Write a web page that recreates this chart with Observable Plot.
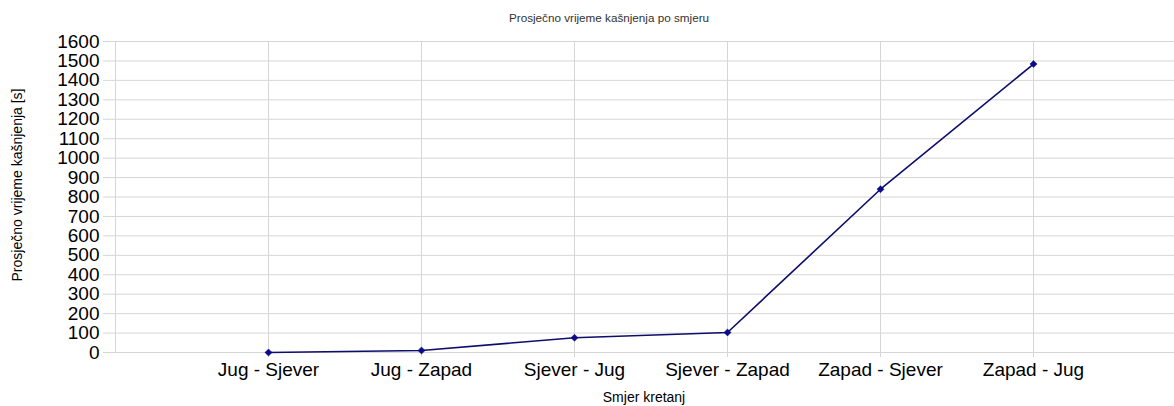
<!DOCTYPE html>
<html>
<head>
<meta charset="utf-8">
<script src="https://cdn.jsdelivr.net/npm/d3@7"></script>
<script src="https://cdn.jsdelivr.net/npm/@observablehq/plot@0.6"></script>
<style>
  html, body { margin: 0; padding: 0; background: #fff; }
  #wrap { position: relative; width: 1174px; height: 406px; overflow: hidden; font-family: "Liberation Sans", Arial, sans-serif; color: #000; }
  #title { position: absolute; left: 0; width: 1218px; top: 11px; text-align: center; font-size: 11.7px; color: #333; }
  #ytitle { position: absolute; left: 17px; top: 185px; transform: translate(-50%, -50%) rotate(-90deg); white-space: nowrap; font-size: 14px; }
  #xtitle { position: absolute; left: 0; width: 1288px; top: 389px; text-align: center; font-size: 14px; }
  #chart { position: absolute; left: 0; top: 0; }
</style>
</head>
<body>
<div id="wrap">
  <div id="chart"></div>
  <div id="title">Prosječno vrijeme kašnjenja po smjeru</div>
  <div id="ytitle">Prosječno vrijeme kašnjenja [s]</div>
  <div id="xtitle">Smjer kretanj</div>
</div>
<script>
const categories = ["Jug - Sjever", "Jug - Zapad", "Sjever - Jug", "Sjever - Zapad", "Zapad - Sjever", "Zapad - Jug"];
const values = [0, 10, 76, 103, 840, 1484];
const yTicks = [0, 100, 200, 300, 400, 500, 600, 700, 800, 900, 1000, 1100, 1200, 1300, 1400, 1500, 1600];

const data = categories.map((c, i) => ({ dir: c, value: values[i] }));
const grid = "#d6d6d6";

const chart = Plot.plot({
  width: 1174,
  height: 406,
  marginLeft: 115,
  marginRight: 0,
  marginTop: 41,
  marginBottom: 54,
  style: { fontFamily: "Liberation Sans, Arial, sans-serif", background: "transparent" },
  x: { type: "point", domain: categories, range: [268, 1033], padding: 0 },
  y: { domain: [0, 1600] },
  marks: [
    Plot.gridY(yTicks, { stroke: grid, strokeOpacity: 1 }),
    Plot.gridX(categories, { stroke: grid, strokeOpacity: 1 }),
    Plot.frame({ anchor: "left", stroke: grid }),
    Plot.axisY(yTicks, { tickSize: 12, tickPadding: 4, stroke: grid, fill: "#000", fontSize: 19, label: null, tickFormat: d => String(d) }),
    Plot.axisX(categories, { tickSize: 5, tickPadding: 5, stroke: grid, fill: "#000", fontSize: 19, label: null }),
    Plot.line(data, { x: "dir", y: "value", stroke: "#0d0d6b", strokeWidth: 1.6 }),
    Plot.dot(data, { x: "dir", y: "value", symbol: "diamond2", r: 3.2, fill: "#0a0a8a", stroke: "#0a0a8a", strokeWidth: 0.5 })
  ]
});
document.getElementById("chart").appendChild(chart);
</script>
</body>
</html>
